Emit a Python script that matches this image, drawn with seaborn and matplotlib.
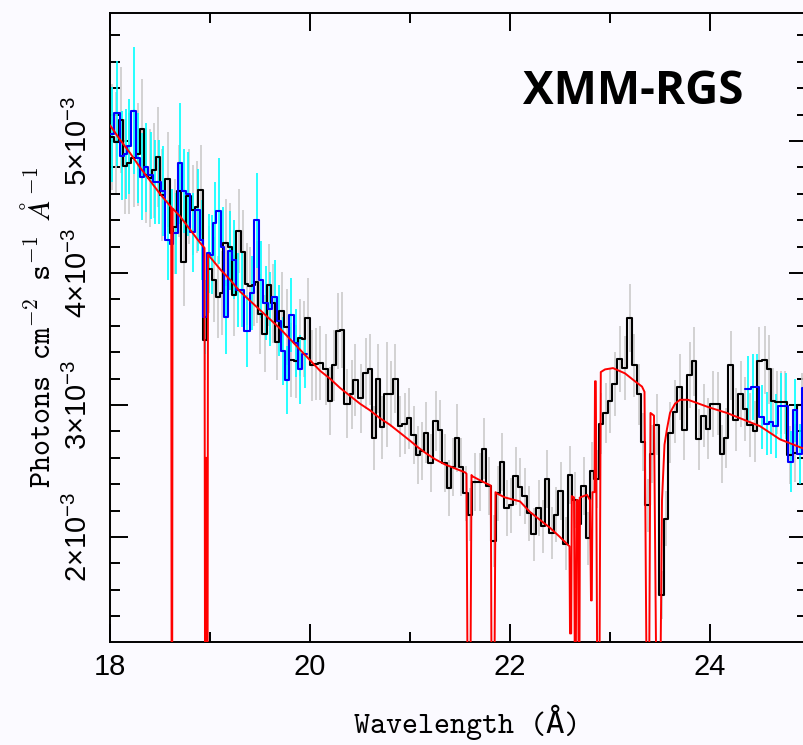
import numpy as np
import pandas as pd
import matplotlib
matplotlib.use("Agg")
import matplotlib.pyplot as plt
from matplotlib.ticker import MultipleLocator, FuncFormatter
import seaborn as sns

sns.set_theme(style="ticks")
plt.rcParams['font.family'] = ['Liberation Sans', 'DejaVu Sans']
plt.rcParams['mathtext.fontset'] = 'custom'
plt.rcParams['mathtext.rm'] = 'Liberation Sans'
plt.rcParams['mathtext.it'] = 'Liberation Sans:italic'
plt.rcParams['mathtext.bf'] = 'Liberation Sans:bold'

# flux in units of 1e-3 photons cm^-2 s^-1 A^-1, wavelength in A
# black data (RGS1): bin left edges, flux, error
blk_lo = [18.00, 18.04, 18.09, 18.13, 18.17, 18.21, 18.26, 18.30, 18.34, 18.38,
          18.42, 18.46, 18.50, 18.55, 18.60, 18.63, 18.67, 18.71, 18.76, 18.81,
          18.85, 18.88, 18.93, 18.97, 19.02, 19.06, 19.10, 19.13, 19.18, 19.22,
          19.26, 19.31, 19.35, 19.38, 19.42, 19.45, 19.48, 19.52, 19.57, 19.61,
          19.65, 19.69, 19.74, 19.79, 19.84, 19.88, 19.92, 19.95, 20.00, 20.04,
          20.08, 20.13, 20.18, 20.22, 20.26, 20.30, 20.34, 20.40, 20.43, 20.48,
          20.53, 20.58, 20.62, 20.66, 20.70, 20.74, 20.79, 20.83, 20.88, 20.92,
          20.97, 21.01, 21.06, 21.10, 21.14, 21.18, 21.23, 21.28, 21.32, 21.37,
          21.41, 21.45, 21.49, 21.53, 21.58, 21.62, 21.67, 21.72, 21.76, 21.81,
          21.86, 21.90, 21.94, 21.99, 22.03, 22.08, 22.12, 22.17, 22.21, 22.26,
          22.31, 22.35, 22.39, 22.44, 22.48, 22.53, 22.58, 22.62, 22.67, 22.71,
          22.76, 22.80, 22.84, 22.89, 22.93, 22.98, 23.02, 23.07, 23.12, 23.17,
          23.22, 23.27, 23.31, 23.35, 23.40, 23.44, 23.49, 23.54, 23.58, 23.63,
          23.67, 23.72, 23.77, 23.82, 23.86, 23.91, 23.96, 24.00, 24.05, 24.10,
          24.14, 24.18, 24.23, 24.28, 24.33, 24.37, 24.43, 24.47, 24.52, 24.57,
          24.61, 24.65, 24.69, 24.73, 24.77, 24.83, 24.87]
blk_end = 24.97
blk_flux = [5.03, 4.99, 5.16, 4.81, 4.83, 4.87, 4.90, 5.09, 4.74, 4.72,
            4.78, 4.88, 4.59, 4.71, 4.30, 4.35, 4.62, 4.08, 4.58, 4.48,
            4.50, 4.63, 3.49, 4.03, 3.95, 3.82, 3.85, 4.23, 4.20, 3.83,
            4.32, 4.16, 3.92, 3.90, 3.91, 3.93, 3.69, 3.54, 3.91, 3.77,
            3.48, 3.71, 3.59, 3.34, 3.33, 3.51, 3.50, 3.66, 3.30, 3.31,
            3.32, 3.27, 3.03, 3.30, 3.56, 3.57, 3.01, 3.08, 3.19, 3.05,
            3.24, 3.27, 2.75, 3.20, 2.83, 3.08, 3.08, 3.20, 2.84, 2.86,
            2.90, 2.77, 2.62, 2.65, 2.79, 2.56, 2.88, 2.81, 2.56, 2.37,
            2.53, 2.75, 2.53, 2.33, 2.17, 2.42, 2.42, 2.67, 2.39, 1.97,
            2.33, 2.57, 2.22, 2.24, 2.46, 2.38, 2.31, 2.18, 2.02, 2.22,
            2.08, 2.44, 2.03, 2.17, 2.35, 1.95, 2.47, 2.28, 2.10, 2.39,
            1.99, 2.50, 2.44, 2.86, 2.94, 3.03, 3.16, 3.35, 3.28, 3.66,
            3.30, 3.08, 2.72, 2.24, 2.63, 2.85, 1.56, 2.14, 2.79, 2.95,
            3.14, 2.81, 3.23, 3.33, 2.74, 2.92, 2.82, 3.01, 3.01, 2.63,
            2.75, 3.30, 2.89, 3.08, 2.97, 2.85, 2.80, 3.33, 3.34, 3.27,
            3.03, 3.02, 3.02, 3.02, 2.62, 2.64, 3.00]
blk_err = [0.40, 0.38, 0.40, 0.36, 0.38, 0.37, 0.39, 0.38, 0.36, 0.37,
           0.36, 0.38, 0.35, 0.36, 0.34, 0.36, 0.35, 0.33, 0.36, 0.34,
           0.35, 0.34, 0.30, 0.33, 0.32, 0.31, 0.32, 0.33, 0.33, 0.31,
           0.32, 0.32, 0.31, 0.30, 0.31, 0.31, 0.30, 0.29, 0.31, 0.30,
           0.29, 0.30, 0.29, 0.28, 0.28, 0.29, 0.29, 0.30, 0.27, 0.27,
           0.28, 0.27, 0.26, 0.27, 0.29, 0.29, 0.26, 0.26, 0.27, 0.26,
           0.27, 0.27, 0.24, 0.26, 0.24, 0.40, 0.25, 0.26, 0.23, 0.23,
           0.23, 0.22, 0.22, 0.22, 0.23, 0.22, 0.23, 0.23, 0.22, 0.21,
           0.22, 0.26, 0.22, 0.21, 0.20, 0.22, 0.22, 0.23, 0.22, 0.20,
           0.21, 0.22, 0.21, 0.21, 0.22, 0.22, 0.21, 0.21, 0.20, 0.21,
           0.20, 0.22, 0.20, 0.21, 0.22, 0.20, 0.22, 0.21, 0.20, 0.22,
           0.20, 0.22, 0.22, 0.23, 0.23, 0.24, 0.24, 0.25, 0.24, 0.26,
           0.24, 0.23, 0.22, 0.20, 0.22, 0.23, 0.18, 0.21, 0.23, 0.24,
           0.25, 0.23, 0.25, 0.26, 0.23, 0.24, 0.23, 0.25, 0.24, 0.22,
           0.23, 0.26, 0.24, 0.25, 0.24, 0.24, 0.23, 0.26, 0.26, 0.26,
           0.25, 0.24, 0.24, 0.24, 0.22, 0.22, 0.24]

# blue data (RGS2), two stretches
blu_lo = [18.00, 18.04, 18.10, 18.14, 18.17, 18.21, 18.26, 18.30, 18.34, 18.38,
          18.43, 18.47, 18.51, 18.55, 18.60, 18.63, 18.68, 18.72, 18.76, 18.80,
          18.85, 18.90, 18.93, 18.97, 19.00, 19.03, 19.06, 19.11, 19.14, 19.18,
          19.22, 19.26, 19.30, 19.34, 19.40, 19.44, 19.49, 19.53, 19.58, 19.62,
          19.67, 19.71, 19.75, 19.79, 19.84, 19.88, 19.92]
blu_end = 19.97
blu_flux = [5.05, 5.21, 4.89, 4.90, 4.96, 5.23, 4.87, 4.73, 4.80, 4.74,
            4.69, 4.69, 4.62, 4.25, 4.22, 4.30, 4.83, 4.62, 4.60, 4.31,
            4.48, 4.25, 3.67, 4.15, 4.14, 4.38, 4.47, 4.20, 3.67, 4.17,
            4.10, 3.87, 3.87, 3.56, 3.85, 4.40, 3.95, 3.77, 3.73, 3.82,
            3.64, 3.41, 3.19, 3.68, 3.47, 3.27, 3.39]
blu_err = [0.36, 0.40, 0.34, 0.34, 0.36, 0.48, 0.34, 0.33, 0.34, 0.33,
           0.32, 0.32, 0.34, 0.30, 0.42, 0.31, 0.46, 0.32, 0.32, 0.30,
           0.31, 0.30, 0.28, 0.30, 0.30, 0.31, 0.40, 0.30, 0.28, 0.30,
           0.30, 0.28, 0.28, 0.27, 0.28, 0.36, 0.29, 0.28, 0.28, 0.28,
           0.27, 0.26, 0.26, 0.28, 0.26, 0.26, 0.26]

blu2_lo = [24.35, 24.41, 24.45, 24.49, 24.54, 24.59, 24.63, 24.68, 24.73, 24.78,
           24.83, 24.87, 24.92]
blu2_end = 24.97
blu2_flux = [3.12, 3.14, 3.14, 2.91, 2.86, 2.87, 2.84, 2.99, 2.99, 2.57,
             2.96, 2.63, 3.13]
blu2_err = [0.25, 0.25, 0.25, 0.24, 0.24, 0.24, 0.24, 0.25, 0.25, 0.23,
            0.24, 0.23, 0.25]

red_wl = [18.00, 18.10, 18.20, 18.30, 18.40, 18.50, 18.60, 18.612, 18.616, 18.622,
          18.626, 18.70, 18.80, 18.90, 18.945, 18.950, 18.955, 18.958, 18.966, 18.970,
          18.976, 18.980, 19.10, 19.20, 19.30, 19.40, 19.50, 19.60, 19.70, 19.80,
          19.90, 20.00, 20.10, 20.20, 20.30, 20.40, 20.50, 20.60, 20.70, 20.80,
          20.90, 21.00, 21.08, 21.15, 21.25, 21.35, 21.45, 21.55, 21.565, 21.575,
          21.605, 21.615, 21.625, 21.70, 21.78, 21.808, 21.815, 21.845, 21.855, 21.87,
          21.95, 22.05, 22.10, 22.20, 22.30, 22.40, 22.50, 22.58, 22.595, 22.600,
          22.612, 22.618, 22.640, 22.648, 22.658, 22.665, 22.680, 22.686, 22.694, 22.700,
          22.770, 22.800, 22.810, 22.818, 22.825, 22.845, 22.850, 22.858, 22.872, 22.895,
          22.908, 22.950, 23.030, 23.150, 23.250, 23.320, 23.345, 23.365, 23.392, 23.405,
          23.440, 23.462, 23.505, 23.520, 23.545, 23.570, 23.600, 23.650, 23.700, 23.780,
          24.000, 24.170, 24.500, 24.700, 24.970]
red_flux = [5.12, 5.01, 4.91, 4.80, 4.70, 4.60, 4.51, 4.50, 1.00, 1.00,
            4.49, 4.43, 4.33, 4.23, 4.19, 1.00, 1.00, 2.60, 2.60, 1.00,
            1.00, 4.14, 4.03, 3.95, 3.86, 3.79, 3.72, 3.65, 3.58, 3.50,
            3.42, 3.34, 3.26, 3.20, 3.13, 3.07, 3.01, 2.96, 2.90, 2.85,
            2.79, 2.73, 2.68, 2.64, 2.59, 2.55, 2.52, 2.49, 2.48, 1.00,
            1.00, 2.47, 2.46, 2.43, 2.40, 2.39, 1.00, 1.00, 2.34, 2.33,
            2.30, 2.28, 2.27, 2.19, 2.13, 2.07, 2.00, 1.94, 1.93, 1.27,
            1.27, 2.31, 2.30, 1.00, 1.00, 2.28, 2.28, 1.00, 1.00, 2.30,
            2.32, 2.28, 1.52, 1.52, 2.34, 2.34, 3.18, 3.18, 1.00, 1.00,
            3.25, 3.27, 3.28, 3.24, 3.18, 3.14, 3.10, 1.00, 1.00, 2.94,
            2.92, 1.00, 1.00, 2.28, 2.70, 2.82, 2.94, 3.01, 3.04, 3.04,
            2.98, 2.94, 2.84, 2.74, 2.66]

bg = '#fbfaff'


def steps(lo, end, flux):
    x = list(lo) + [end]
    y = list(flux) + [flux[-1]]
    return pd.DataFrame({'wl': x, 'flux': y})


def centers(lo, end):
    edges = np.array(list(lo) + [end])
    return 0.5 * (edges[:-1] + edges[1:])


fig = plt.figure(figsize=(8.04, 7.45), dpi=100, facecolor=bg)
ax = fig.add_axes([110 / 804, 103 / 745, 697 / 804, 629 / 745])
ax.set_facecolor(bg)

bf = np.array(blk_flux)
be = np.array(blk_err)
ax.vlines(centers(blk_lo, blk_end), bf - be, bf + be, color='#cbcbcb', lw=1.2, zorder=1)
for lo, end, fl, er in [(blu_lo, blu_end, blu_flux, blu_err),
                        (blu2_lo, blu2_end, blu2_flux, blu2_err)]:
    f = np.array(fl)
    e = np.array(er)
    ax.vlines(centers(lo, end), f - e, f + e, color='#00ffff', lw=1.2, zorder=2)

sns.lineplot(data=steps(blk_lo, blk_end, blk_flux), x='wl', y='flux', ax=ax,
             drawstyle='steps-post', color='black', lw=1.5, estimator=None, sort=False, zorder=3)
for lo, end, fl in [(blu_lo, blu_end, blu_flux), (blu2_lo, blu2_end, blu2_flux)]:
    sns.lineplot(data=steps(lo, end, fl), x='wl', y='flux', ax=ax,
                 drawstyle='steps-post', color='#0000ff', lw=1.5, estimator=None, sort=False, zorder=4)
sns.lineplot(x=red_wl, y=red_flux, ax=ax, color='#ff0000', lw=1.4,
             estimator=None, sort=False, zorder=5)

ax.set_xlim(18.0, 24.97)
ax.set_ylim(1.205, 5.97)

ax.xaxis.set_major_locator(MultipleLocator(2))
ax.xaxis.set_minor_locator(MultipleLocator(1))
ax.yaxis.set_major_locator(MultipleLocator(1))
ax.yaxis.set_minor_locator(MultipleLocator(0.2))
ax.yaxis.set_major_formatter(FuncFormatter(lambda v, p: f'{v:.0f}×10$^{{-3}}$'))

ax.tick_params(which='both', direction='in', top=True, right=True, width=1.4, color='black')
ax.tick_params(which='major', length=13)
ax.tick_params(which='minor', length=7)
ax.tick_params(axis='x', pad=8, labelsize=21, labelcolor='black')
ax.tick_params(axis='y', pad=12, labelsize=21, labelrotation=90, labelcolor='black')
plt.setp(ax.get_yticklabels(), va='center')
for s in ax.spines.values():
    s.set_linewidth(1.4)
    s.set_color('black')

tt = ['cmtt10', 'DejaVu Sans Mono']
ax.set_xlabel('Wavelength (Å)', family=tt, fontsize=22, color='black', va='center')
ax.xaxis.set_label_coords(0.512, -0.127)
ax.set_ylabel(r'Photons cm$^{-2}$ s$^{-1}$ $\AA^{-1}$', family='cmtt10', fontsize=22,
              color='black', va='center', math_fontfamily='cm')
ax.yaxis.set_label_coords(-0.1, 0.5)

ax.text(23.235, 5.28, 'XMM-RGS', ha='center', va='baseline', fontsize=33,
        fontweight='bold', family='Open Sans', color='black')

fig.savefig('out.png', dpi=100, facecolor=bg)
